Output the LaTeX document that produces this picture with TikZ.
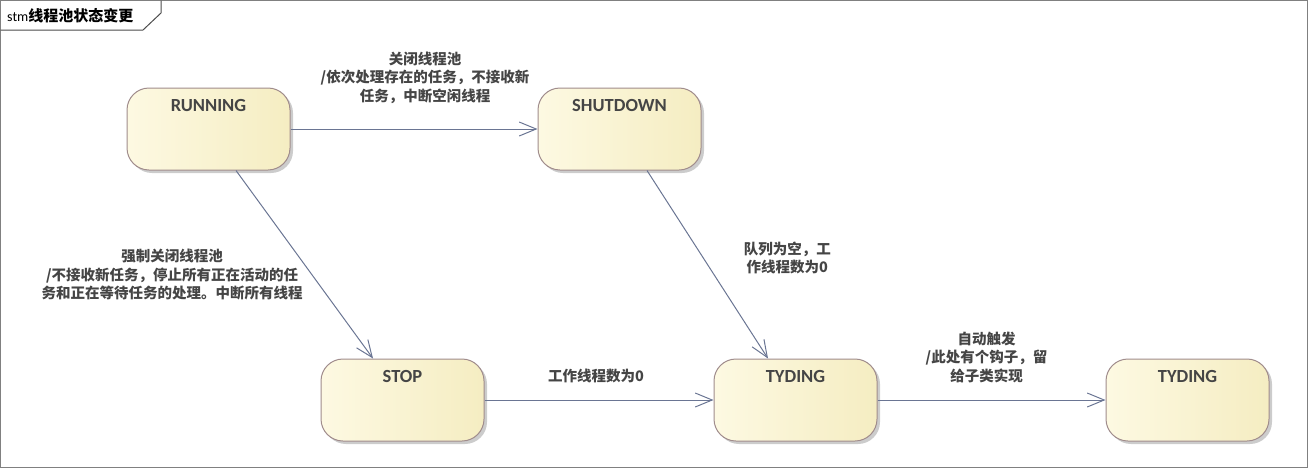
\documentclass[tikz,border=0pt]{standalone}
\usepackage{fontspec}
\setmainfont{Carlito}
\newfontfamily\cjk{Noto Sans CJK SC}
\usepackage{tikz}
\usetikzlibrary{positioning,arrows.meta,shadows}
\definecolor{sfilla}{HTML}{FDF9E2}
\definecolor{sfillb}{HTML}{F5EDC2}
\definecolor{sborder}{HTML}{A08C8C}
\definecolor{stxt}{HTML}{454545}
\definecolor{sarrow}{HTML}{6A7593}
\definecolor{sframe}{HTML}{808080}

\begin{document}
\begin{tikzpicture}[x=1pt, y=-1pt,
  state_/.style={rectangle, rounded corners=22pt, draw=sborder, line width=1pt,
    left color=sfilla, right color=sfillb,
    drop shadow={shadow xshift=3pt, shadow yshift=-3pt, opacity=0.2, fill=black},
    font=\bfseries\fontsize{18.5}{20}\selectfont, text=stxt,
    minimum width=163pt, minimum height=82pt, inner ysep=10pt,
    text height=13pt, text depth=49pt},
  lbl/.style={font=\cjk\bfseries\fontsize{14.5}{18.5}\selectfont, text=stxt,
    align=center, inner sep=2pt},
  arr/.style={-{Straight Barb[length=17pt,width=14pt]}, line width=1pt, color=sarrow}
]
\useasboundingbox (0,0) rectangle (1309,469);
\draw[sframe, line width=1pt] (0.5,0.5) rectangle (1307.5,467.5);
\draw[black!70, line width=1pt] (0.5,30) -- (143,30) -- (161,13) -- (161,0.5);
\node[anchor=west, inner sep=0pt] (title) at (7,16)
  {\fontsize{14}{16}\selectfont stm{\cjk\bfseries\fontsize{15}{16}\selectfont 线程池状态变更}};

% states
\node[state_] (running) at (208.5,129) {RUNNING};
\node[state_, right=247pt of running] (shutdown) {SHUTDOWN};
\node[state_] (stop) at (402.5,400) {STOP};
\node[state_, right=229pt of stop] (tyding) {TYDING};
\node[state_, right=228pt of tyding] (tydingb) {TYDING};

% transitions
\draw[arr] (running) -- node[lbl, midway, above=23pt, xshift=11pt]
  {关闭线程池\\/依次处理存在的任务，不接收新\\任务，中断空闲线程} (shutdown);
\draw[arr] ([xshift=27.5pt]running.south) -- node[lbl, pos=0.556, anchor=east, xshift=-7pt]
  {强制关闭线程池\\/不接收新任务，停止所有正在活动的任\\务和正在等待任务的处理。中断所有线程} ([xshift=-29.5pt]stop.north);
\draw[arr] ([xshift=27.5pt]shutdown.south) -- node[lbl, pos=0.466, anchor=west, xshift=38pt]
  {队列为空，工\\作线程数为0} ([xshift=-27.5pt]tyding.north);
\draw[arr] (stop) -- node[lbl, midway, above=15pt, xshift=-3pt] {工作线程数为0} (tyding);
\draw[arr] (tyding) -- node[lbl, midway, above=15pt, xshift=-5pt]
  {自动触发\\/此处有个钩子，留\\给子类实现} (tydingb);
\end{tikzpicture}
\end{document}
